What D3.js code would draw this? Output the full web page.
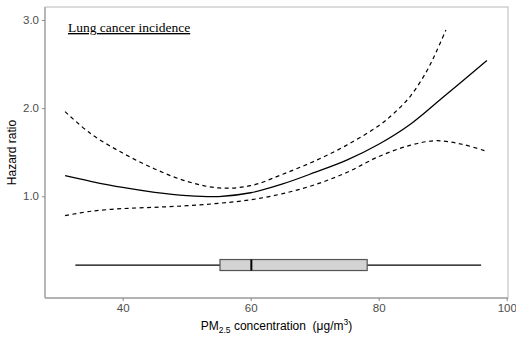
<!DOCTYPE html>
<html>
<head>
<meta charset="utf-8">
<script src="https://cdn.jsdelivr.net/npm/d3@7"></script>
<style>
  html, body { margin: 0; padding: 0; background: #fff; }
  svg { display: block; }
</style>
</head>
<body>
<svg id="chart" width="516" height="344"></svg>
<script>
// ---- data ----
const fitX   = [31, 35, 40, 45, 50, 55, 60, 65, 70, 75, 80, 85, 90, 96.9];
const fitY   = [1.234, 1.17, 1.10, 1.045, 1.008, 0.997, 1.04, 1.14, 1.27, 1.41, 1.59, 1.82, 2.12, 2.54];
const upperX = [31, 35, 40, 45, 50, 55, 60, 65, 70, 75, 80, 82.5, 85, 87.5, 89, 90.5];
const upperY = [1.96, 1.71, 1.49, 1.31, 1.17, 1.095, 1.12, 1.25, 1.40, 1.58, 1.80, 1.95, 2.14, 2.42, 2.64, 2.887];
const lowerX = [31, 35, 40, 45, 50, 55, 60, 65, 70, 75, 80, 85, 89, 93, 96.7];
const lowerY = [0.78, 0.83, 0.86, 0.875, 0.893, 0.92, 0.96, 1.03, 1.13, 1.27, 1.45, 1.58, 1.63, 1.59, 1.514];
// box plot of exposure: min, q1, median, q3, max
const boxStats = [32.6, 55.2, 60.1, 78.2, 96.0];
const boxLevel = 0.22;
const xTicks = [40, 60, 80, 100];
const yTicks = [1.0, 2.0, 3.0];
const titleText = "Lung cancer incidence";
const yLabel = "Hazard ratio";

// ---- layout ----
const svg = d3.select("#chart");
const L = 45, R = 508, T = 7, B = 298;
const x = d3.scaleLinear().domain([27.86, 100.2]).range([L, R]);
const y = d3.scaleLinear().domain([-0.154, 3.147]).range([B, T]);

// panel border (thin top/right)
svg.append("rect")
  .attr("x", L).attr("y", T).attr("width", R - L).attr("height", B - T)
  .attr("fill", "none").attr("stroke", "#b8b8b8").attr("stroke-width", 1);

// axes
const axisColor = "#4d4d4d";
const gx = svg.append("g").attr("transform", `translate(0,${B})`)
  .call(d3.axisBottom(x).tickValues(xTicks).tickSize(3).tickPadding(3).tickFormat(d3.format("d")));
const gy = svg.append("g").attr("transform", `translate(${L},0)`)
  .call(d3.axisLeft(y).tickValues(yTicks).tickSize(3).tickPadding(3).tickFormat(d3.format(".1f")));
[gx, gy].forEach(g => {
  g.select(".domain").attr("stroke", "#b3b3b3").attr("stroke-width", 1.8);
  g.selectAll(".tick line").attr("stroke", "#8a8a8a").attr("stroke-width", 1);
  g.selectAll(".tick text").attr("fill", axisColor)
    .style("font-family", "'Liberation Sans', Arial, sans-serif").style("font-size", "11.5px");
});
gy.select(".domain").attr("d", `M0,${T}V${B}`);
gx.select(".domain").attr("d", `M${L},0H${R}`);

// curves
const line = d3.line().x(d => x(d[0])).y(d => y(d[1])).curve(d3.curveCatmullRom.alpha(0.5));
svg.append("path").datum(d3.zip(upperX, upperY)).attr("d", line)
  .attr("fill", "none").attr("stroke", "#000").attr("stroke-width", 1.2).attr("stroke-dasharray", "4,3.5");
svg.append("path").datum(d3.zip(lowerX, lowerY)).attr("d", line)
  .attr("fill", "none").attr("stroke", "#000").attr("stroke-width", 1.2).attr("stroke-dasharray", "4,3.5");
svg.append("path").datum(d3.zip(fitX, fitY)).attr("d", line)
  .attr("fill", "none").attr("stroke", "#000").attr("stroke-width", 1.3);

// box plot
const by = y(boxLevel), bh = 11;
svg.append("line").attr("x1", x(boxStats[0])).attr("x2", x(boxStats[4]))
  .attr("y1", by).attr("y2", by).attr("stroke", "#000").attr("stroke-width", 1.3);
svg.append("rect").attr("x", x(boxStats[1])).attr("y", by - bh / 2)
  .attr("width", x(boxStats[3]) - x(boxStats[1])).attr("height", bh)
  .attr("fill", "#d3d3d3").attr("stroke", "#555").attr("stroke-width", 1.2);
svg.append("line").attr("x1", x(boxStats[2])).attr("x2", x(boxStats[2]))
  .attr("y1", by - bh / 2).attr("y2", by + bh / 2).attr("stroke", "#000").attr("stroke-width", 2);

// title
svg.append("text").attr("x", 68).attr("y", 32)
  .style("font-family", "'Liberation Serif', 'Times New Roman', serif").style("font-size", "13.5px")
  .style("text-decoration", "underline").attr("fill", "#000").text(titleText);

// axis titles
svg.append("text").attr("transform", `translate(16,${(T + B) / 2}) rotate(-90)`)
  .attr("text-anchor", "middle")
  .style("font-family", "'Liberation Sans', Arial, sans-serif").style("font-size", "12px")
  .attr("fill", "#000").text(yLabel);

const xt = svg.append("text").attr("x", (L + R) / 2).attr("y", 330).attr("text-anchor", "middle")
  .style("font-family", "'Liberation Sans', Arial, sans-serif").style("font-size", "12px")
  .style("white-space", "pre").attr("fill", "#000");
xt.append("tspan").text("PM");
xt.append("tspan").attr("dy", 3).style("font-size", "8.5px").text("2.5");
xt.append("tspan").attr("dy", -3).text(" concentration \u00a0(\u03bcg/m");
xt.append("tspan").attr("dy", -5).style("font-size", "8.5px").text("3");
xt.append("tspan").attr("dy", 5).text(")");
</script>
</body>
</html>
